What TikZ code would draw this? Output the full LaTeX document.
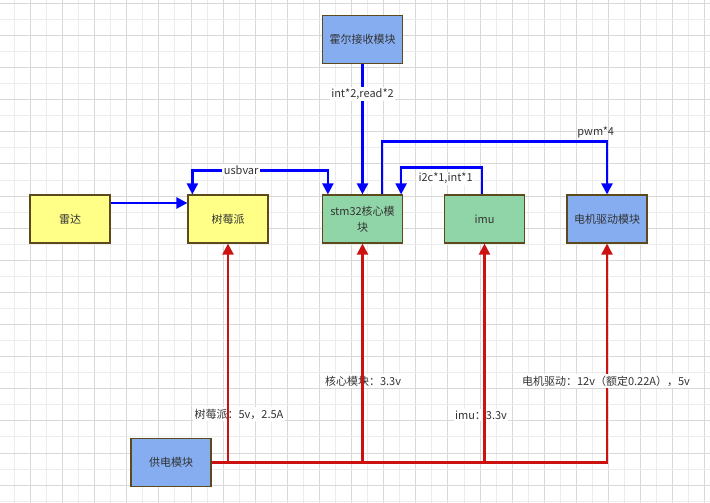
\documentclass[tikz,border=0pt]{standalone}
\usepackage{fontspec}
\setmainfont{Noto Sans CJK SC}
\usetikzlibrary{arrows.meta,calc}
\definecolor{gridD}{HTML}{D8D8D8}
\definecolor{gridL}{HTML}{ECECEC}
\definecolor{byellow}{HTML}{FFFF88}
\definecolor{bgreen}{HTML}{90D5A8}
\definecolor{bblue}{HTML}{85ADF0}
\definecolor{bborder}{HTML}{5C4A1C}
\definecolor{txt}{HTML}{333333}
\definecolor{flowblue}{HTML}{0000FF}
\definecolor{powred}{HTML}{CC1111}
\tikzset{
  box/.style={draw=bborder, line width=1.2, minimum width=80, minimum height=48, inner sep=2, align=center, text=txt, font=\fontsize{11}{16}\selectfont},
  yel/.style={box, fill=byellow},
  grn/.style={box, fill=bgreen},
  blu/.style={box, fill=bblue},
  sig/.style={draw=flowblue, line width=2.3, -{Triangle[width=11,length=11]}},
  sigb/.style={draw=flowblue, line width=2.3, {Triangle[width=11,length=11]}-{Triangle[width=11,length=11]}},
  pw/.style={draw=powred, line width=2.2},
  pwa/.style={pw, -{Triangle[width=11,length=11]}},
  lbl/.style={fill=white, inner sep=1.5, text=txt, font=\fontsize{11}{13}\selectfont},
}
\begin{document}
\begin{tikzpicture}[x=1pt,y=-1pt]
\useasboundingbox (0,0) rectangle (710,503);
\fill[white] (0,0) rectangle (710,503);
\foreach \i in {0,...,44}{
  \pgfmathtruncatemacro\m{mod(\i,2)}
  \ifnum\m=1 \def\gc{gridD}\else\def\gc{gridL}\fi
  \draw[\gc,line width=0.9] ({14.3+16.06*\i},0) -- ++(0,503);
}
\foreach \j in {0,...,31}{
  \pgfmathtruncatemacro\m{mod(\j,2)}
  \ifnum\m=0 \def\gc{gridD}\else\def\gc{gridL}\fi
  \draw[\gc,line width=0.9] (0,{3.3+16.06*\j}) -- ++(710,0);
}
% nodes
\node[yel] (radar) at (70,219) {雷达};
\node[yel] (pi) at (228,219) {树莓派};
\node[grn] (stm) at (362.5,219) {stm32核心模\\块};
\node[grn] (imu) at (484.5,219) {imu};
\node[blu] (motor) at (607,219) {电机驱动模块};
\node[blu] (hall) at (362.5,39.5) {霍尔接收模块};
\node[blu] (power) at (171,462.5) {供电模块};
% power labels (under lines)
\node[lbl] (lpi) at (239,414) {树莓派：5v，2.5A};
\node[lbl] (lstm) at (363,381) {核心模块：3.3v};
\node[lbl] (limu) at (481,415) {imu：3.3v};
% power lines
\coordinate (pj) at (power.east -| motor.south);
\draw[pwa] (power.east) -- (pj) -- (motor.south);
\draw[pwa] (power.east -| pi.south) -- (pi.south);
\draw[pwa] (power.east -| stm.south) -- (stm.south);
\draw[pwa] (power.east -| imu.south) -- (imu.south);
\node[lbl] (lmotor) at (606,381) {电机驱动：12v（额定0.22A），5v};
% signal lines
\draw[sig] (radar.east) ++(0,-16) coordinate (ra) (ra) -- (ra -| pi.west);
\draw[sig] (hall.south) -- (stm.north) node[lbl, pos=0.23] {int*2,read*2};
\draw[sigb] ([xshift=6]stm.north west) -- ++(0,-24) -| ([xshift=5]pi.north west) node[lbl, pos=0.32] {usbvar};
\draw[sig] ([xshift=19.5]stm.north) -- ++(0,-53) -| (motor.north) node[lbl, fill=none, pos=0.475, above=0.5] {pwm*4};
\draw[sig] ([xshift=-2.5]imu.north) -- ++(0,-27) -| ([xshift=-2]stm.north east) node[lbl, pos=0.225, below=3] {i2c*1,int*1};
\end{tikzpicture}
\end{document}
